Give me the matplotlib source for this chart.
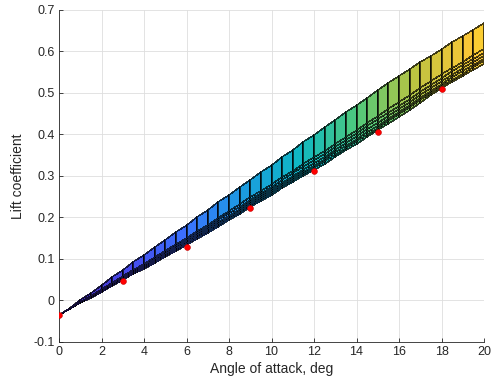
import numpy as np
import matplotlib
matplotlib.use("Agg")
import matplotlib.pyplot as plt
from matplotlib.colors import LinearSegmentedColormap

# angle of attack grid (deg), one column per 0.5 deg
alpha = [0, 0.5, 1, 1.5, 2, 2.5, 3, 3.5, 4, 4.5, 5, 5.5, 6, 6.5, 7, 7.5, 8, 8.5, 9, 9.5, 10,
         10.5, 11, 11.5, 12, 12.5, 13, 13.5, 14, 14.5, 15, 15.5, 16, 16.5, 17, 17.5, 18, 18.5,
         19, 19.5, 20]

# upper and lower edges of the lift surface
cl_upper = [-0.035, -0.017, 0.001, 0.019, 0.037, 0.056, 0.074, 0.092, 0.110, 0.128, 0.146,
            0.164, 0.182, 0.200, 0.218, 0.237, 0.255, 0.273, 0.291, 0.309, 0.327, 0.345,
            0.363, 0.381, 0.399, 0.417, 0.435, 0.453, 0.471, 0.489, 0.507, 0.524, 0.541,
            0.558, 0.574, 0.590, 0.606, 0.622, 0.637, 0.652, 0.668]
cl_lower = [-0.035, -0.021, -0.007, 0.007, 0.021, 0.035, 0.049, 0.063, 0.077, 0.091, 0.105,
            0.119, 0.133, 0.148, 0.163, 0.178, 0.193, 0.209, 0.225, 0.240, 0.255, 0.270,
            0.285, 0.300, 0.315, 0.330, 0.346, 0.362, 0.378, 0.394, 0.410, 0.426, 0.443,
            0.460, 0.477, 0.494, 0.511, 0.526, 0.541, 0.556, 0.571]

# where each mesh row sits between the lower and upper edge
row_pos = [0, 0.06, 0.12, 0.19, 0.27, 0.36, 1.0]

# measured points
test_alpha = [0, 3, 6, 9, 12, 15, 18]
test_cl = [-0.036, 0.047, 0.130, 0.223, 0.312, 0.406, 0.509]

xticks = [0, 2, 4, 6, 8, 10, 12, 14, 16, 18, 20]
yticks = [-0.1, 0, 0.1, 0.2, 0.3, 0.4, 0.5, 0.6, 0.7]
ytick_labels = ["-0.1", "0", "0.1", "0.2", "0.3", "0.4", "0.5", "0.6", "0.7"]

# parula-like colormap
parula = LinearSegmentedColormap.from_list("parula", [
    (0.000, (0.2422, 0.1504, 0.6603)),
    (0.125, (0.2803, 0.2782, 0.9221)),
    (0.250, (0.2305, 0.4519, 0.9984)),
    (0.375, (0.1085, 0.6079, 0.8841)),
    (0.500, (0.0590, 0.7221, 0.7624)),
    (0.625, (0.3141, 0.7905, 0.4814)),
    (0.750, (0.7199, 0.7679, 0.2574)),
    (0.875, (0.9859, 0.7779, 0.2130)),
    (1.000, (0.9769, 0.9839, 0.0805)),
])

plt.rcParams["font.family"] = ["Liberation Sans", "DejaVu Sans"]

a = np.array(alpha)
lo = np.array(cl_lower)
hi = np.array(cl_upper)
X = np.tile(a, (len(row_pos), 1))
Y = np.array([lo + f * (hi - lo) for f in row_pos])
C = Y[:-1, :-1]

fig = plt.figure(figsize=(4.98, 3.87), dpi=100)
ax = fig.add_axes([0.1185, 0.1163, 0.8534, 0.8579])

ax.pcolormesh(X, Y, C, cmap=parula, vmin=Y.min(), vmax=Y.max(),
              edgecolors=(0, 0, 0, 0.7), linewidth=0.25, shading="flat", zorder=2)
ax.plot(test_alpha, test_cl, "o", color="red", markersize=4.2,
        markeredgewidth=0.4, markeredgecolor="#c00000", zorder=3)

ax.set_xlim(0, 20)
ax.set_ylim(-0.1, 0.7)
ax.set_xticks(xticks)
ax.set_yticks(yticks)
ax.set_yticklabels(ytick_labels)
ax.grid(True, color="#dedede", linewidth=0.6, zorder=0)
ax.set_axisbelow(True)

ax.spines["top"].set_visible(False)
ax.spines["right"].set_visible(False)
for s in ["left", "bottom"]:
    ax.spines[s].set_color("#262626")
    ax.spines[s].set_linewidth(0.6)
ax.tick_params(direction="in", length=3, width=0.6, color="#262626",
               labelcolor="#262626", labelsize=9, pad=3)

ax.set_xlabel("Angle of attack, deg", fontsize=10, color="#262626", labelpad=3)
ax.set_ylabel("Lift coefficient", fontsize=10, color="#262626", labelpad=6)

fig.savefig("out.png", dpi=100)
